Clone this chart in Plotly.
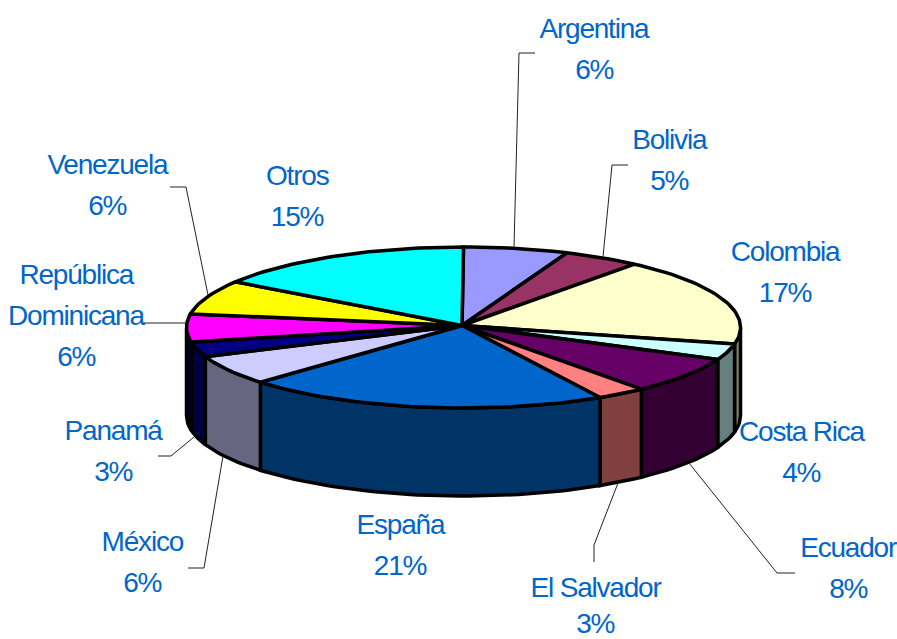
import math
import plotly.graph_objects as go

# Data, clockwise from 12 o'clock
countries = ["Argentina", "Bolivia", "Colombia", "Costa Rica", "Ecuador", "El Salvador",
             "España", "México", "Panamá", "República Dominicana", "Venezuela", "Otros"]
shares = [6.1, 4.5, 17.7, 3.2, 7.4, 2.9, 21.3, 6.0, 3.0, 5.6, 6.9, 15.4]
percent_labels = ["6%", "5%", "17%", "4%", "8%", "3%", "21%", "6%", "3%", "6%", "6%", "15%"]
top_colors = ["#9999FF", "#993366", "#FFFFCC", "#CCFFFF", "#660066", "#FF8080",
              "#0066CC", "#CCCCFF", "#000080", "#FF00FF", "#FFFF00", "#00FFFF"]
side_colors = ["#666699", "#662244", "#808066", "#668080", "#330033", "#804040",
               "#003366", "#666680", "#000040", "#000040", "#808000", "#008080"]

# Layout of the drawing
CX, CY, RX, RY, DEPTH = 463.5, 327.5, 277, 80.5, 88
label_lines = [["Argentina"], ["Bolivia"], ["Colombia"], ["Costa Rica"], ["Ecuador"], ["El Salvador"],
               ["España"], ["México"], ["Panamá"], ["República", "Dominicana"], ["Venezuela"], ["Otros"]]
label_anchor = [(594, 28), (669, 139), (785, 251), (801, 431), (848, 547), (595, 587),
                (400, 524), (142, 541), (113, 430), (76, 274), (107, 164), (297, 175)]
label_gap = [41, 41, 41, 41, 41, 36, 41, 41, 41, 41, 41, 41]
leaders = [
    [(535, 53), (519, 53), (514, 247)],
    [(628, 165), (612, 165), (603, 257)],
    [(689, 463), (777, 573), (795, 573)],
    [(618, 483), (594, 545), (594, 562)],
    [(223, 456), (204, 568), (188, 568)],
    [(194, 437), (171, 456), (158, 456)],
    [(187, 323), (143, 323)],
    [(208, 295), (186, 187), (170, 187)],
]
TEXT = "#0066CC"
FONT = "Liberation Sans"

def pt(deg, dy=0.0):
    r = math.radians(deg)
    return CX + RX * math.sin(r), CY - RY * math.cos(r) + dy

def arc(a, b, dy=0.0):
    n = max(2, int(abs(b - a) / 1.5) + 1)
    return [pt(a + (b - a) * i / (n - 1), dy) for i in range(n)]

total = sum(shares)
edges = [0.0]
for s in shares:
    edges.append(edges[-1] + s / total * 360)

fig = go.Figure()

def poly(points, fill, width=3.5):
    fig.add_trace(go.Scatter(
        x=[p[0] for p in points], y=[p[1] for p in points],
        mode="lines", fill="toself", fillcolor=fill,
        line=dict(color="black", width=width, shape="linear"),
        hoverinfo="skip", showlegend=False))

# Side walls of the disc (front half only)
for i, c in enumerate(side_colors):
    a, b = max(edges[i], 90), min(edges[i + 1], 270)
    if b > a:
        top = arc(a, b)
        bottom = arc(b, a, DEPTH)
        poly(top + bottom + [top[0]], c)

# Top faces
for i, c in enumerate(top_colors):
    pts = [(CX - 1.5, CY - 2)] + arc(edges[i], edges[i + 1]) + [(CX - 1.5, CY - 2)]
    poly(pts, c)

# Leader lines
for seg in leaders:
    fig.add_trace(go.Scatter(
        x=[p[0] for p in seg], y=[p[1] for p in seg], mode="lines",
        line=dict(color="#222222", width=1), hoverinfo="skip", showlegend=False))

# Labels
annotations = []
for lines, pct, (x, y), gap in zip(label_lines, percent_labels, label_anchor, label_gap):
    for k, txt in enumerate(lines + [pct]):
        annotations.append(dict(x=x, y=y + k * gap, text=txt, showarrow=False,
                                xanchor="center", yanchor="middle", xref="x", yref="y",
                                font=dict(family=FONT, size=28, color=TEXT)))

fig.update_layout(
    width=897, height=639, margin=dict(l=0, r=0, t=0, b=0),
    paper_bgcolor="white", plot_bgcolor="white", showlegend=False,
    xaxis=dict(range=[0, 897], visible=False, fixedrange=True),
    yaxis=dict(range=[639, 0], visible=False, fixedrange=True),
    annotations=annotations)

post = """
document.body.style.margin = '0';
document.body.style.overflow = 'hidden';
document.querySelectorAll('.annotation-text').forEach(function (t) {
    t.style.letterSpacing = '-1.2px';
});
"""
fig.write_html("out.html", config={"displayModeBar": False}, post_script=post)
